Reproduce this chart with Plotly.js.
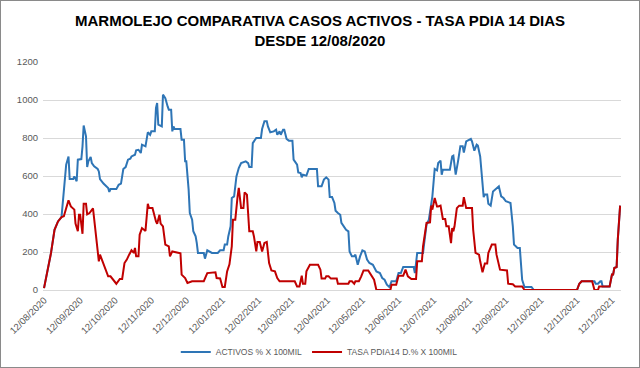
<!DOCTYPE html>
<html><head><meta charset="utf-8">
<script src="https://cdn.plot.ly/plotly-3.0.1.min.js"></script>
<style>
html,body{margin:0;padding:0;background:#fff}
#wrap{position:relative;width:640px;height:368px}
#chart{width:640px;height:368px}
#frame{position:absolute;left:0;top:0;width:638px;height:366px;border:1px solid #8a8a8a;pointer-events:none}
</style>
</head><body>
<div id="wrap"><div id="chart"></div><div id="frame"></div></div>
<script>
// ---- DATA ----
var tickDates = ["2020-08-12","2020-09-12","2020-10-12","2020-11-12","2020-12-12","2021-01-12","2021-02-12","2021-03-12","2021-04-12","2021-05-12","2021-06-12","2021-07-12","2021-08-12","2021-09-12","2021-10-12","2021-11-12","2021-12-12"];
var tickLabels = ["12/08/2020","12/09/2020","12/10/2020","12/11/2020","12/12/2020","12/01/2021","12/02/2021","12/03/2021","12/04/2021","12/05/2021","12/06/2021","12/07/2021","12/08/2021","12/09/2021","12/10/2021","12/11/2021","12/12/2021"];

var activosDates = [
 "2020-08-12","2020-08-18","2020-08-21","2020-08-24","2020-08-27","2020-08-28","2020-08-29","2020-08-31",
 "2020-09-02","2020-09-03","2020-09-06","2020-09-07","2020-09-09","2020-09-10","2020-09-13","2020-09-14","2020-09-15","2020-09-17","2020-09-18","2020-09-19","2020-09-21","2020-09-22","2020-09-24","2020-09-27","2020-09-28","2020-09-29",
 "2020-10-02","2020-10-04","2020-10-06","2020-10-07","2020-10-08","2020-10-13","2020-10-15","2020-10-17","2020-10-19","2020-10-21","2020-10-23","2020-10-25","2020-10-26","2020-10-29","2020-10-30",
 "2020-11-01","2020-11-03","2020-11-04","2020-11-07","2020-11-09","2020-11-11","2020-11-12","2020-11-15","2020-11-16","2020-11-17","2020-11-18","2020-11-21","2020-11-22","2020-11-24","2020-11-26","2020-11-27","2020-11-29","2020-11-30",
 "2020-12-01","2020-12-02","2020-12-07","2020-12-08","2020-12-10","2020-12-11","2020-12-12","2020-12-14","2020-12-15","2020-12-17","2020-12-18","2020-12-20","2020-12-21","2020-12-22","2020-12-27","2020-12-28","2020-12-30",
 "2021-01-01","2021-01-03","2021-01-08","2021-01-10","2021-01-13","2021-01-14","2021-01-16","2021-01-17","2021-01-19","2021-01-20","2021-01-22","2021-01-24","2021-01-26","2021-01-28",
 "2021-02-01","2021-02-03","2021-02-04","2021-02-06","2021-02-07","2021-02-09","2021-02-10","2021-02-14","2021-02-15","2021-02-17","2021-02-19","2021-02-20","2021-02-22","2021-02-25","2021-02-27","2021-02-28",
 "2021-03-02","2021-03-03","2021-03-05","2021-03-06","2021-03-08","2021-03-10","2021-03-13","2021-03-14","2021-03-17","2021-03-18","2021-03-20","2021-03-21","2021-03-22","2021-03-25","2021-03-27",
 "2021-04-03","2021-04-04","2021-04-07","2021-04-09","2021-04-11","2021-04-13","2021-04-14","2021-04-16","2021-04-18","2021-04-19","2021-04-21","2021-04-23","2021-04-24","2021-04-26","2021-04-28","2021-04-30",
 "2021-05-01","2021-05-03","2021-05-05","2021-05-06","2021-05-08","2021-05-10","2021-05-12","2021-05-14","2021-05-16","2021-05-18","2021-05-21","2021-05-24","2021-05-27","2021-05-29","2021-05-31",
 "2021-06-02","2021-06-04","2021-06-05","2021-06-06","2021-06-10","2021-06-12","2021-06-14","2021-06-16","2021-06-25","2021-06-26","2021-06-28",
 "2021-07-03","2021-07-04","2021-07-06","2021-07-08","2021-07-10","2021-07-11","2021-07-13","2021-07-15","2021-07-16","2021-07-18","2021-07-19","2021-07-20","2021-07-26","2021-07-28","2021-07-29","2021-07-31",
 "2021-08-02","2021-08-04","2021-08-06","2021-08-07","2021-08-09","2021-08-11","2021-08-13","2021-08-14","2021-08-16","2021-08-18","2021-08-19","2021-08-21","2021-08-22","2021-08-24","2021-08-25","2021-08-27","2021-08-28","2021-08-30",
 "2021-09-01","2021-09-03","2021-09-05","2021-09-06","2021-09-08","2021-09-10","2021-09-12","2021-09-16","2021-09-18","2021-09-19","2021-09-22","2021-09-24","2021-09-26","2021-09-27","2021-09-28",
 "2021-10-04","2021-10-06",
 "2021-11-12","2021-11-14","2021-11-16","2021-11-25","2021-11-27","2021-11-28","2021-11-30",
 "2021-12-02","2021-12-03","2021-12-04","2021-12-10","2021-12-12","2021-12-13","2021-12-14","2021-12-16","2021-12-17","2021-12-19"
];
var activosValues = [
 10,195,317,361,384,449,546,660,
 703,584,584,598,572,686,689,756,866,809,647,677,700,668,651,637,624,584,
 560,546,537,516,531,531,554,560,637,647,686,691,703,712,735,
 738,721,765,756,830,817,835,835,958,984,870,861,1028,1010,966,949,949,835,
 861,847,847,791,791,677,677,528,405,370,309,282,247,195,195,165,209,
 203,195,195,209,209,239,239,282,335,484,493,598,642,668,
 677,668,647,647,773,795,800,800,847,888,888,861,830,835,844,817,
 835,817,844,844,795,786,786,686,660,619,616,593,607,602,637,
 637,546,546,581,593,581,489,489,458,417,405,396,353,335,317,309,
 203,177,177,186,133,177,209,203,160,142,133,98,89,63,54,
 28,16,28,46,46,89,89,121,121,89,195,
 195,247,344,370,440,493,637,630,668,681,607,633,633,703,707,607,
 677,756,756,724,782,788,795,782,733,765,760,703,637,489,502,502,454,444,
 519,528,537,546,493,484,467,458,335,239,221,221,54,28,16,
 16,0,
 0,33,46,46,46,33,33,
 46,46,19,19,81,81,116,121,265,444
];

var tasaDates = [
 "2020-08-12","2020-08-18","2020-08-21","2020-08-24","2020-08-27","2020-08-29",
 "2020-09-02","2020-09-04","2020-09-07","2020-09-08","2020-09-10","2020-09-11","2020-09-12","2020-09-14","2020-09-15","2020-09-17","2020-09-18","2020-09-20","2020-09-23","2020-09-24","2020-09-28","2020-09-29",
 "2020-10-02","2020-10-06","2020-10-08","2020-10-10","2020-10-13","2020-10-16","2020-10-18","2020-10-20","2020-10-22","2020-10-24","2020-10-26","2020-10-28","2020-10-29","2020-10-30",
 "2020-11-01","2020-11-02","2020-11-04","2020-11-07","2020-11-09","2020-11-10","2020-11-13","2020-11-16","2020-11-17","2020-11-19","2020-11-20","2020-11-22","2020-11-24","2020-11-27","2020-11-28","2020-11-30",
 "2020-12-05","2020-12-07","2020-12-08","2020-12-11","2020-12-13","2020-12-17","2020-12-27","2020-12-30",
 "2021-01-06","2021-01-07","2021-01-10","2021-01-12","2021-01-14","2021-01-16","2021-01-18","2021-01-20","2021-01-21","2021-01-23","2021-01-25","2021-01-26","2021-01-28","2021-01-30","2021-01-31",
 "2021-02-02","2021-02-03","2021-02-04","2021-02-07","2021-02-08","2021-02-10","2021-02-11","2021-02-13","2021-02-15","2021-02-17","2021-02-19","2021-02-21","2021-02-23","2021-02-26","2021-02-28",
 "2021-03-02","2021-03-15","2021-03-17","2021-03-19","2021-03-21","2021-03-22","2021-03-24","2021-03-25","2021-03-28",
 "2021-04-04","2021-04-06","2021-04-07","2021-04-10","2021-04-11","2021-04-13","2021-04-15","2021-04-20","2021-04-21","2021-04-30",
 "2021-05-01","2021-05-03","2021-05-05","2021-05-06","2021-05-09","2021-05-11","2021-05-13","2021-05-17","2021-05-20","2021-05-22","2021-05-24",
 "2021-06-05","2021-06-06","2021-06-10","2021-06-12","2021-06-16","2021-06-18","2021-06-20","2021-06-23","2021-06-27","2021-06-28",
 "2021-07-02","2021-07-03","2021-07-06","2021-07-09","2021-07-10","2021-07-11","2021-07-13","2021-07-15","2021-07-16","2021-07-18","2021-07-20","2021-07-22","2021-07-23","2021-07-25","2021-07-26","2021-07-27","2021-07-28","2021-07-29","2021-07-30",
 "2021-08-01","2021-08-03","2021-08-06","2021-08-07","2021-08-09","2021-08-14","2021-08-15","2021-08-17","2021-08-20","2021-08-21","2021-08-23","2021-08-25","2021-08-27","2021-08-28","2021-08-31",
 "2021-09-03","2021-09-04","2021-09-07","2021-09-13","2021-09-14","2021-09-18","2021-09-20","2021-09-26","2021-09-28",
 "2021-11-12","2021-11-14","2021-11-16","2021-11-25","2021-11-27","2021-11-30",
 "2021-12-01","2021-12-10","2021-12-12","2021-12-13","2021-12-14","2021-12-16","2021-12-17","2021-12-19"
];
var tasaValues = [
 10,195,317,361,384,388,
 472,440,423,350,309,396,396,296,454,454,398,405,430,370,151,186,
 133,72,72,54,33,58,58,142,160,186,209,195,221,177,
 177,291,326,311,454,431,431,361,349,396,349,335,239,230,177,203,
 195,193,81,63,37,46,46,89,
 93,63,61,16,16,98,135,230,370,370,493,537,431,431,514,
 502,405,309,309,282,203,253,253,203,247,253,142,103,98,63,
 46,46,19,19,75,33,33,98,133,
 133,107,60,60,72,72,60,60,33,33,
 46,46,33,46,46,72,103,103,72,54,0,
 0,28,28,75,75,107,72,58,58,151,
 151,230,353,356,444,423,484,440,440,444,374,374,335,335,300,247,326,309,335,
 431,444,444,489,431,431,317,195,186,151,93,139,139,195,239,
 239,186,107,103,33,30,19,19,0,
 0,33,46,46,0,0,
 19,19,81,81,116,121,265,444
];

var seriesNames = ["ACTIVOS % X 100MIL", "TASA PDIA14 D.% X 100MIL"];
var titleLines = ["MARMOLEJO COMPARATIVA CASOS ACTIVOS - TASA PDIA 14 DIAS", "DESDE 12/08/2020"];

// ---- CHART ----
var FONT = "'Liberation Sans',Arial,sans-serif";
var traces = [
 {type:'scatter', mode:'lines', name:seriesNames[0], x:activosDates, y:activosValues,
  line:{color:'#2E75B6', width:2}},
 {type:'scatter', mode:'lines', name:seriesNames[1], x:tasaDates, y:tasaValues,
  line:{color:'#C00000', width:2}}
];
var layout = {
 width:640, height:368,
 margin:{l:43, r:19, t:62, b:78, autoexpand:false},
 paper_bgcolor:'#ffffff', plot_bgcolor:'#ffffff',
 title:{text:'<b>'+titleLines[0]+'</b><br><b>'+titleLines[1]+'</b>',
  font:{family:FONT, size:15, color:'#000000'}, x:0.5, xanchor:'center', xref:'container',
  y:0.929, yanchor:'top', yref:'container'},
 xaxis:{type:'date', range:['2020-08-11 03:00','2021-12-19 18:00'],
  tickmode:'array', tickvals:tickDates, ticktext:tickLabels, tickangle:-45,
  tickfont:{family:FONT, size:9.5, color:'#595959'},
  showgrid:false, zeroline:false, showline:true, linecolor:'#d9d9d9', linewidth:1, ticks:''},
 yaxis:{range:[0,1200], tick0:0, dtick:200, showgrid:true, gridcolor:'#d9d9d9', gridwidth:1,
  zeroline:false, showline:false, ticks:'', ticklabelstandoff:4,
  tickfont:{family:FONT, size:9.5, color:'#595959'}},
 showlegend:true,
 legend:{orientation:'h', x:0.478, xanchor:'center', y:-0.272, yanchor:'middle',
  font:{family:FONT, size:8.5, color:'#595959'}, bgcolor:'rgba(0,0,0,0)'}
};
Plotly.newPlot('chart', traces, layout, {displayModeBar:false, staticPlot:true});
</script>
</body></html>
